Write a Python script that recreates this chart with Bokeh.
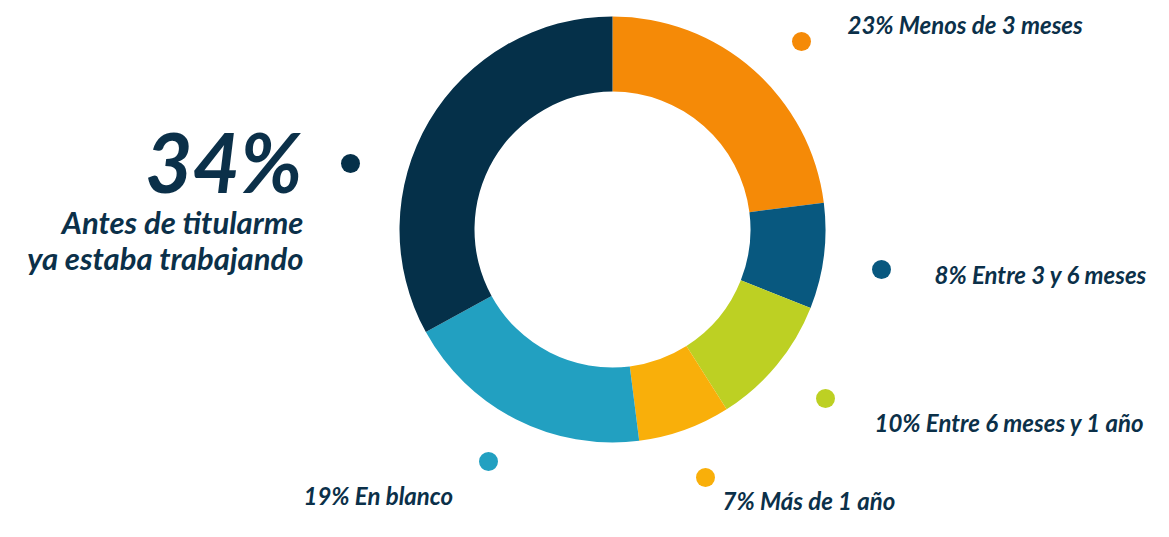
import math
from bokeh.plotting import figure
from bokeh.models import Range1d
from bokeh.core.properties import value
from bokeh.embed import file_html
from bokeh.resources import INLINE

# ---- data ----
categories = ["Menos de 3 meses", "Entre 3 y 6 meses", "Entre 6 meses y 1 año",
              "Más de 1 año", "En blanco", "Antes de titularme ya estaba trabajando"]
percents = [23, 8, 10, 7, 19, 34]
colors = ["#F58A07", "#08587F", "#BDD023", "#F9AF0A", "#22A0C1", "#053049"]
text_color = "#0B3049"

# ---- layout (screen pixels of image, y down) ----
W, H = 1153, 521
cx_img, cy_img = 612, 229
r_out, r_in = 213, 138
dots_img = [(801, 41), (881, 269), (825, 398), (705, 477), (488, 461), (350, 163)]
labels_img = [(847, 24), (934, 274), (874, 422), (722, 500), (303, 495)]

def Y(y):
    return 537 - y

p = figure(width=W, height=H, output_backend="svg", toolbar_location=None,
           x_range=Range1d(0, W), y_range=Range1d(537 - H, 537),
           min_border=0, outline_line_color=None)
p.axis.visible = False
p.grid.visible = False
p.background_fill_color = "white"

# wedges: start at top, clockwise
start = math.pi / 2
cum = 0.0
for i, v in enumerate(percents):
    a0 = start - 2 * math.pi * cum / 100
    cum = min(cum + v, 100)
    a1 = start - 2 * math.pi * cum / 100
    if i == len(percents) - 1:
        a1 = start - 2 * math.pi
    p.annular_wedge(x=cx_img, y=Y(cy_img), inner_radius=r_in, outer_radius=r_out,
                    start_angle=a1, end_angle=a0, color=colors[i], line_color=None)

# dots
for (dx, dy), c in zip(dots_img, colors):
    p.scatter(x=dx, y=Y(dy), size=19, color=c, line_color=None)

font = value("Lato")
for (lx, ly), pc, cat in zip(labels_img, percents[:5], categories[:5]):
    p.text(x=lx, y=Y(ly), text=[f"{pc}% {cat}"], text_font=font, text_font_size="24px",
           text_font_style="bold italic", text_color=text_color,
           text_align="left", text_baseline="middle")

# big label
p.text(x=302, y=Y(160), text=[f"{percents[5]}%"], text_font=font, text_font_size="82px",
       text_font_style="bold italic", text_color=text_color,
       text_align="right", text_baseline="middle")
p.text(x=303, y=Y(221), text=["Antes de titularme"], text_font=font, text_font_size="31px",
       text_font_style="bold italic", text_color=text_color,
       text_align="right", text_baseline="middle")
p.text(x=303, y=Y(257), text=["ya estaba trabajando"], text_font=font, text_font_size="31px",
       text_font_style="bold italic", text_color=text_color,
       text_align="right", text_baseline="middle")

open("out.html", "w").write(file_html(p, INLINE))
